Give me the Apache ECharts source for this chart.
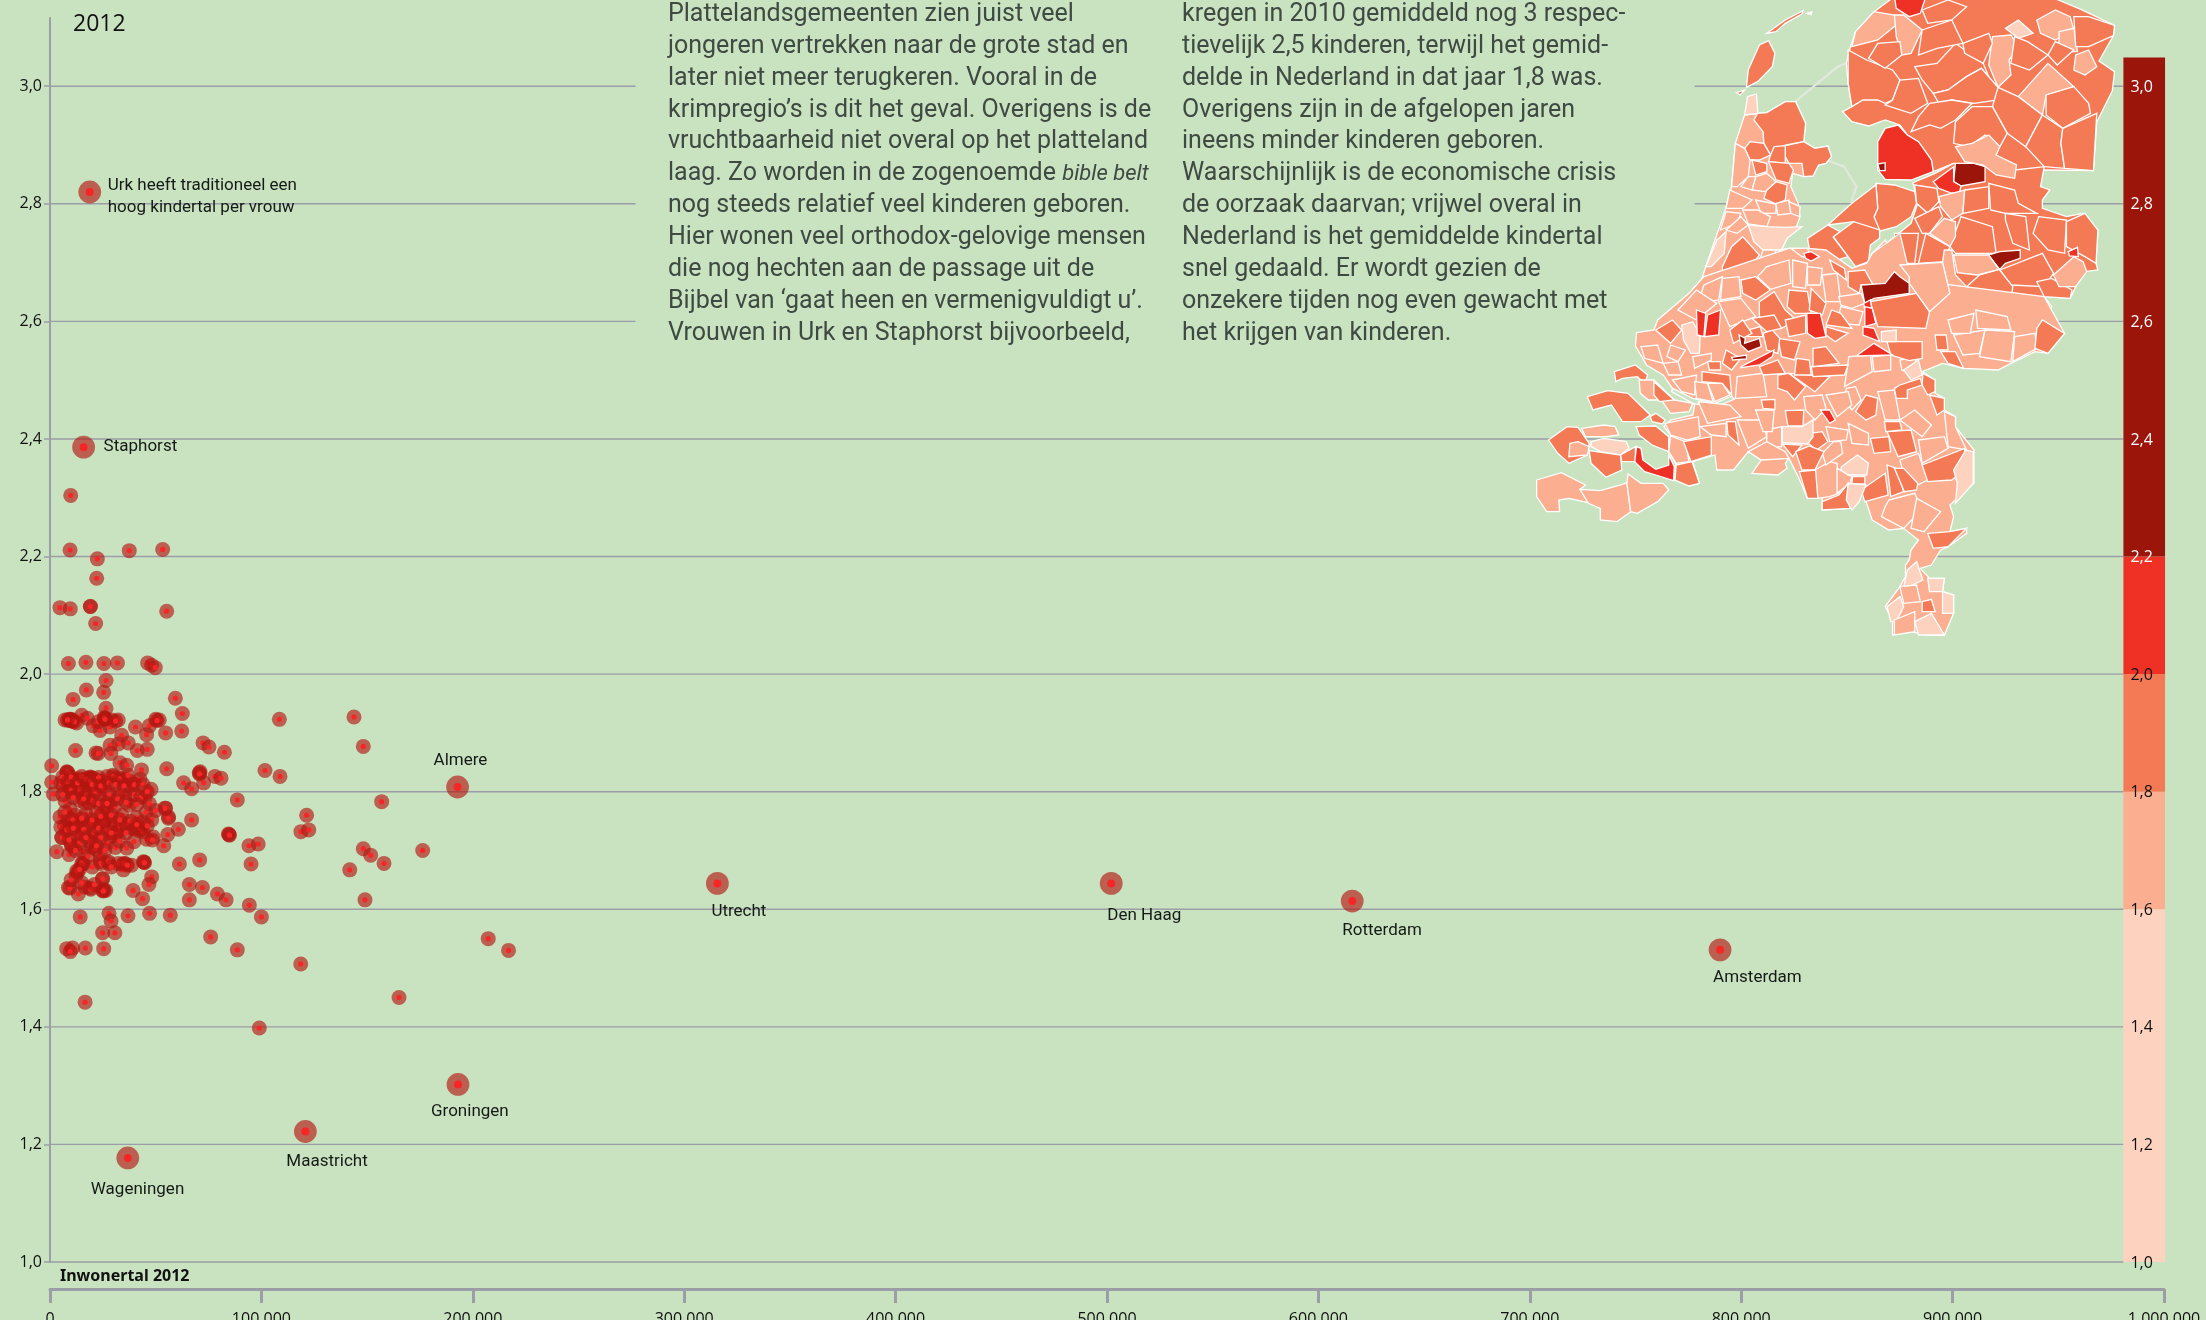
<!DOCTYPE html>
<html>
<head>
<meta charset="utf-8">
<style>html,body{margin:0;padding:0;background:#c9e3c1;overflow:hidden}#main{width:2206px;height:1320px}</style>
<script src="https://cdn.jsdelivr.net/npm/echarts@6/dist/echarts.min.js"></script>
</head>
<body>
<div id="main"></div>
<script type="text/javascript">
// kindertal per vrouw tegen inwonertal (inwoners x 1000, kinderen)
var gemeenten = [
  [4.7,2.113],[9.6,2.111],[19.1,2.115],[19.1,2.115],[55.2,2.107],[21.6,2.086],[9.8,2.304],[9.5,2.211],[37.5,2.210],[53.3,2.212],[22.4,2.196],[22.1,2.163],
  [8.7,2.018],[17.0,2.020],[25.5,2.018],[31.9,2.019],[46.2,2.019],[48.1,2.015],[49.8,2.011],[26.5,1.989],[25.4,1.969],[17.2,1.973],[10.9,1.957],[26.5,1.942],
  [59.3,1.959],[62.6,1.933],[62.3,1.903],[108.5,1.923],[143.8,1.927],[148.2,1.877],[101.7,1.836],[108.8,1.826],[82.5,1.867],[72.4,1.883],[75.2,1.876],
  [71,1.834],[70.6,1.832],[70.8,1.830],[78,1.826],[80.9,1.823],[72.7,1.815],[55.2,1.839],[63.2,1.815],[67,1.805],[88.6,1.786],[156.9,1.783],[67,1.752],
  [121.4,1.760],[118.7,1.732],[122.4,1.735],[84.7,1.727],[84.4,1.728],[84.9,1.726],[94.1,1.708],[98.5,1.711],[148.2,1.703],[151.7,1.692],[158,1.678],[176.3,1.700],
  [141.8,1.667],[95.1,1.677],[70.8,1.684],[61.2,1.677],[53.8,1.708],[55.7,1.727],[60.7,1.736],[56.1,1.757],[54.7,1.772],[149,1.616],[65.9,1.642],[72.1,1.637],
  [79.2,1.626],[83.3,1.616],[65.9,1.616],[94.3,1.607],[100,1.587],[56.9,1.590],[47.1,1.593],[36.9,1.589],[27.9,1.593],[28.9,1.580],[24.9,1.560],[30.7,1.560],
  [14.3,1.587],[76,1.553],[88.6,1.531],[118.6,1.507],[165.1,1.450],[207.3,1.550],[216.9,1.530],[99,1.398],[16.6,1.442],[7.9,1.533],[10.7,1.534],[9.6,1.528],[16.7,1.534],[25.4,1.533],
  [39.3,1.632],[43.8,1.618],[48.1,1.655],[46.8,1.642],[44.5,1.680],[44.2,1.681],[44.7,1.679],[24.8,1.652],[24.8,1.632],[26.4,1.632],[25.6,1.633],
  [35.5,1.678],[34.4,1.676],[34.7,1.667],[38.6,1.675],[27.9,1.678],[23.7,1.681],[15.5,1.678],[15.7,1.677],[13,1.663],[12.3,1.657],[8.7,1.637],[9.4,1.636],[13.4,1.626],[18.9,1.636],[16.5,1.638],
  [3.2,1.698],[9,1.693],[10.1,1.708],[36.3,1.704],
  // kluit rond 1,92
  [7.1,1.922],[9.1,1.923],[9.6,1.922],[10.3,1.922],[10.7,1.921],[12.6,1.917],[15,1.930],[17.7,1.925],[20.5,1.912],[23.7,1.904],[22.9,1.919],[25.9,1.925],[26.2,1.924],
  [29.2,1.922],[28.4,1.910],[32.3,1.922],[33.9,1.896],[37,1.883],[40.4,1.910],[47,1.912],[50,1.923],[51.7,1.922],[45.7,1.897],[54.7,1.900],
  [32.3,1.881],[28.4,1.879],[41.3,1.870],[46,1.872],[28.8,1.865],[21.8,1.866],[22.8,1.865],[12.1,1.870],[33.1,1.849],[36.3,1.845],[43.3,1.837],[0.8,1.844],
  [9.3,1.921],[10,1.923],[10.5,1.920],[11.5,1.919],[8.3,1.922],[25.6,1.926],[26,1.923],[31,1.920],[50.6,1.921],
  // kluit rond 1,8
  [0.8,1.816],[1.6,1.796],[7.9,1.833],[6.3,1.810],[5.1,1.815],[11,1.817],[12.6,1.820],[18.9,1.823],[19.5,1.824],[25.5,1.818],[29.7,1.828],[32.3,1.824],[35.5,1.821],[38.6,1.817],
  [42.6,1.821],[38.6,1.806],[47.8,1.804],[45,1.790],[54.4,1.772],[56,1.755],[45.4,1.765],[37.5,1.777],[35.5,1.793],[30.7,1.774],[29.2,1.786],[25.7,1.776],[18.9,1.803],[23.3,1.795],
  [18.6,1.781],[15.8,1.800],[12.9,1.800],[9.1,1.800],[9.5,1.770],[7.1,1.784],[13.4,1.746],[7.9,1.743],[6.9,1.742],[18.1,1.746],[25.5,1.749],[22.9,1.746],[30.7,1.746],[31.8,1.730],
  [43,1.736],[41,1.756],[38.6,1.738],[48.1,1.752],[48.9,1.723],[5.5,1.722],[11.8,1.726],[20.5,1.721],[28.4,1.723],[16.6,1.780],[26.8,1.766],[4.7,1.757],[5.1,1.740],[5.7,1.722],
  [10.3,1.709],[15.5,1.698],[15,1.678],[19.7,1.706],[23.7,1.692],[24,1.678],[27.6,1.681],[32.3,1.678],[35,1.678],[36.6,1.675],[31.5,1.731],[39.4,1.738],[39.7,1.715],[45.7,1.719],
  [48.4,1.718],[12.6,1.665],[25.2,1.631],[24.9,1.652],[19.3,1.634],
  // dubbelen in het hart van de kluit
  [11,1.818],[12,1.819],[19,1.825],[18.5,1.822],[20,1.823],[8,1.834],[8.5,1.832],[6,1.825],[14,1.822],[16,1.818],[22,1.820],[27,1.826],[30,1.826],[33,1.822],[10,1.805],[14,1.805],
  [21,1.800],[26,1.804],[17,1.795],[20,1.785],[14,1.785],[28,1.795],[33,1.800],[40,1.795],[43,1.790],[12,1.760],[17,1.762],[22,1.765],[27,1.755],[34,1.760],[9,1.755],[13,1.742],
  [19,1.744],[24.5,1.748],[25.8,1.750],[25,1.745],[15,1.728],[21,1.730],[33,1.742],[42,1.734],[44,1.732],[42.5,1.738],[36,1.745],[14,1.712],[19,1.715],[27,1.712],[31,1.705],[21.5,1.702],
  [8.5,1.817],[10,1.825],[13,1.815],[15,1.826],[17,1.822],[18.9,1.818],[20,1.812],[23,1.824],[24,1.810],[28,1.815],[31,1.812],[35,1.810],[37,1.828],[40,1.812],[44,1.812],[46,1.800],
  [6,1.795],[11,1.790],[16,1.788],[23,1.780],[27,1.780],[32,1.788],[36,1.782],[41,1.778],[47,1.780],[50,1.768],[7,1.765],[11,1.752],[15,1.755],[20,1.752],[24,1.758],[29,1.760],
  [33,1.752],[38,1.750],[44,1.748],[8,1.735],[11,1.738],[16,1.736],[23,1.738],[27,1.735],[36,1.730],[41,1.744],[46,1.742],[9,1.718],[17,1.722],[24,1.722],[29,1.730],[33,1.716],
  [12,1.700],[22,1.708],[26,1.700],[18,1.690],[20,1.672],[14,1.668],[29,1.672],[10,1.650],[15,1.645],[21,1.642]
];

// gemeenten met een naam erbij
var steden = ['Urk','Staphorst','Almere','Utrecht','Den Haag','Rotterdam','Amsterdam','Groningen','Maastricht','Wageningen'];
var stedenInwoners = [18.8,15.9,192.8,315.7,502,616,790,193,120.8,36.8];
var stedenKindertal = [2.820,2.386,1.808,1.644,1.644,1.614,1.531,1.302,1.222,1.177];
var stedenTekst = {Urk: 'Urk heeft traditioneel een\nhoog kindertal per vrouw'};
// tekst t.o.v. de stip
var stedenLabelPlek = {
  'Urk':[18,5],'Staphorst':[20,0],'Almere':[-24,-26],'Utrecht':[-6,28],'Den Haag':[-4,32],
  'Rotterdam':[-10,30],'Amsterdam':[-7,28],'Groningen':[-27,27],'Maastricht':[-19,30],'Wageningen':[-37,32]
};

var yTicks = [1.0,1.2,1.4,1.6,1.8,2.0,2.2,2.4,2.6,2.8,3.0];
var xTickLabels = ['0','100.000','200.000','300.000','400.000','500.000','600.000','700.000','800.000','900.000','1.000.000'];

// legenda: grenzen en kleuren, onderaan beginnen
var schaalGrenzen = [1.0,1.6,1.8,2.0,2.2,3.049];
var schaalKleuren = ['#fdd3c0','#fbae90','#f47a56','#ee3025','#9b150a'];
var waterKleur = '#c9e3c1';
var dijkKleur = '#e2eadf';

var tekstLinks = [
  'Plattelandsgemeenten zien juist veel',
  'jongeren vertrekken naar de grote stad en',
  'later niet meer terugkeren. Vooral in de',
  'krimpregio\u2019s is dit het geval. Overigens is de',
  'vruchtbaarheid niet overal op het platteland',
  'laag. Zo worden in de zogenoemde {i|bible belt}',
  'nog steeds relatief veel kinderen geboren.',
  'Hier wonen veel orthodox-gelovige mensen',
  'die nog hechten aan de passage uit de',
  'Bijbel van \u2018gaat heen en vermenigvuldigt u\u2019.',
  'Vrouwen in Urk en Staphorst bijvoorbeeld,'
];
var tekstRechts = [
  'kregen in 2010 gemiddeld nog 3 respec-',
  'tievelijk 2,5 kinderen, terwijl het gemid-',
  'delde in Nederland in dat jaar 1,8 was.',
  'Overigens zijn in de afgelopen jaren',
  'ineens minder kinderen geboren.',
  'Waarschijnlijk is de economische crisis',
  'de oorzaak daarvan; vrijwel overal in',
  'Nederland is het gemiddelde kindertal',
  'snel gedaald. Er wordt gezien de',
  'onzekere tijden nog even gewacht met',
  'het krijgen van kinderen.'
];

// kaart: [klasse, omtrek]. Grote vlakken eerst, de kleinere er bovenop
var L = 1.5, M = 1.7, H = 1.9, R = 2.1, D = 2.4, W = 0, K = -1;
var kaartNoord = [
  // waddeneilanden en dijken
  [H,'585,262 590,210 620,135 645,122 662,160 655,200 615,245'],[H,'558,278 580,270 568,285'],[H,'640,100 690,60 738,32 735,42 690,70 665,95'],[M,'748,40 762,36 760,44'],
  [K,'716,303 830,198 852,188 852,192 832,203 719,306'],[K,'810,482 850,497 885,560 870,605 868,600 880,560 848,502 810,486'],
  // noorden en oosten als basis
  [H,'985,-10 930,35 880,95 865,145 855,190 860,250 870,320 845,335 870,365 915,378 960,360 1000,375 1020,405 1050,425 1085,480 1090,515 1145,490 1230,500 1240,530 1310,510 1390,510 1523,512 1532,366 1574,272 1580,215 1538,183 1577,107 1580,76 1489,28 1428,0 1400,-10'],
  [H,'1035,548 1095,520 1145,490 1230,500 1310,510 1390,500 1380,560 1405,570 1385,600 1385,625 1450,650 1495,640 1505,680 1535,690 1530,790 1535,810 1500,815 1475,860 1460,895 1390,890 1410,920 1395,960 1300,1000 1000,1000 920,800 930,760 1030,670 1048,610'],
  // Friesland
  [M,'880,95 930,35 985,45 990,75 940,120 870,140'],[M,'985,45 1010,45 1060,90 1030,160 1005,165 990,110'],[R,'985,-10 1070,-10 1055,40 1025,50 990,25'],
  [H,'860,150 910,180 980,210 1000,240 980,300 960,310 940,300 900,300 870,320 860,250'],[H,'980,300 1000,240 1050,235 1075,310 1030,340 960,315'],
  [H,'1040,200 1100,190 1150,130 1225,190 1240,230 1220,205 1180,230 1130,270 1090,280 1060,240'],[H,'1090,280 1130,270 1180,230 1220,205 1265,262 1265,300 1200,310 1140,300 1105,310'],
  [H,'1050,350 1080,310 1140,300 1195,310 1150,360 1110,385 1080,375 1030,395'],[H,'1060,90 1140,60 1170,130 1100,145 1050,165'],[H,'940,130 1000,125 1005,165 960,205 915,175'],[H,'1060,30 1130,0 1180,20 1140,60 1075,70'],
  // Groningen en Drenthe
  [L,'1285,85 1320,60 1360,100 1320,115'],[M,'1250,110 1300,105 1320,140 1295,180 1300,225 1265,262 1240,195'],[M,'1320,290 1400,190 1470,260 1395,285 1385,345'],[M,'1370,60 1420,30 1460,50 1470,90 1420,120 1380,100'],
  [M,'1430,95 1470,85 1480,155 1430,155'],[M,'1470,210 1475,165 1510,150 1532,200 1500,225'],[H,'1470,50 1510,50 1580,76 1577,107 1510,140 1475,140'],[H,'1170,130 1240,100 1250,130 1225,190 1175,160'],
  [H,'1265,262 1320,290 1385,345 1340,440 1290,400 1250,320'],[H,'1385,345 1440,385 1435,430 1445,505 1390,500 1340,440'],[H,'1440,385 1532,340 1523,512 1445,505 1435,430'],[H,'1395,285 1470,260 1510,310 1515,340 1440,385 1395,345'],
  [H,'1150,365 1195,320 1250,320 1290,400 1270,440 1230,405 1185,440 1145,430'],[H,'1310,110 1345,125 1400,165 1350,210 1300,190'],[H,'1420,125 1470,150 1425,195 1400,165'],
  [M,'1195,430 1240,405 1270,440 1260,465 1315,495 1310,535 1260,525 1225,495 1175,485 1150,440'],
  [D,'1150,490 1200,490 1230,500 1230,545 1165,558 1145,545'],[R,'1090,545 1145,500 1145,545 1165,558 1160,582 1135,578 1105,565'],
  // Noordoostpolder en Urk
  [R,'940,425 960,385 995,375 1020,405 1050,425 1085,480 1090,515 1030,540 960,538 940,510'],[D,'940,492 960,488 960,512 945,512'],
  // Flevoland
  [H,'935,550 985,555 1040,575 1045,610 1030,650 990,680 940,695 930,650 940,625'],[H,'935,555 940,625 930,650 945,690 885,700 875,665 805,675 870,610'],
  [H,'750,715 805,675 838,695 820,712 860,770 830,780 800,755 755,745'],[H,'820,710 875,665 945,690 945,715 920,735 915,785 880,800 860,770'],
  // Overijssel en Gelderland
  [M,'1105,590 1175,570 1170,640 1140,660 1110,620'],[H,'1040,555 1100,565 1105,605 1075,640 1045,610'],[H,'1175,570 1240,560 1240,625 1170,640'],[H,'1240,550 1310,570 1320,610 1370,640 1285,640 1245,630'],
  [H,'1165,650 1250,680 1260,760 1150,760 1135,740'],[H,'1285,640 1340,650 1350,750 1305,730 1285,660'],[H,'1375,650 1450,660 1445,760 1400,750 1360,700'],[H,'1450,665 1500,640 1535,690 1530,790 1500,770 1450,740'],
  [H,'1270,810 1385,760 1415,820 1390,860 1300,855'],[H,'1180,860 1215,825 1268,808 1305,860 1300,905 1220,880'],[H,'1370,845 1410,835 1465,870 1460,895 1390,890'],[H,'1040,655 1105,620 1115,650 1080,700 1060,700'],
  [H,'985,700 1050,700 1040,790 990,790'],[H,'1050,790 1070,700 1135,740 1120,785'],
  [M,'1420,820 1470,770 1495,785 1505,815 1475,860 1430,860 1415,825'],[R,'1455,755 1480,742 1482,770 1458,768'],[D,'1238,765 1270,755 1325,750 1325,775 1285,790 1270,808'],
  [M,'1145,765 1240,765 1268,808 1210,825 1155,818'],[M,'1000,795 1115,787 1135,880 1080,935 1045,880 1025,850 1025,830'],[M,'1120,750 1140,750 1150,825 1180,860 1135,880 1115,787'],
  [M,'925,760 960,720 985,770 950,765'],[M,'1080,700 1120,655 1150,665 1150,710 1135,740'],
  // Noord-Holland
  [M,'580,345 615,340 640,338 690,305 718,305 745,370 740,425 770,445 805,438 815,470 800,490 780,495 765,528 740,530 710,520 705,560 725,610 730,650 720,680 695,715 680,745 700,770 640,800 520,830 470,830 430,880 460,850 500,720 525,640 545,560 555,430'],
  [L,'588,290 612,282 616,340 580,345'],[H,'615,340 640,338 690,305 718,305 745,370 740,425 690,435 650,465 632,430 630,395 605,360'],
  [H,'690,437 740,425 770,445 805,438 815,470 800,490 780,495 765,528 740,530 735,490 700,490 690,470'],[H,'660,440 690,437 690,490 645,485 650,465'],[H,'645,485 700,490 712,510 700,550 665,540'],
  [H,'580,445 595,425 632,430 650,465 620,480 595,480'],[H,'640,570 665,545 695,555 690,600 665,612 632,595'],[M,'555,430 580,445 595,480 590,530 560,560 545,560'],[M,'610,530 640,520 665,545 635,575 600,570'],
  [M,'540,570 600,600 575,625 530,625'],[M,'610,600 665,612 665,640 625,640'],[M,'665,610 700,600 705,640 670,645'],[M,'700,605 730,620 728,650 705,640'],[M,'575,630 615,630 650,650 640,680 590,672'],[M,'530,635 570,640 560,670 515,690'],
  [M,'590,530 610,530 600,570 570,560'],[H,'600,480 640,490 640,515 610,525'],
  [L,'590,675 640,680 690,682 735,680 695,715 680,750 630,750 605,725'],[M,'570,650 590,675 560,700 530,690'],[H,'575,710 620,765 600,795 560,820 520,830 520,800 545,740'],[L,'505,720 530,695 525,760 490,800 475,800'],
  [M,'630,750 665,750 650,800 615,800'],[L,'675,750 700,745 700,775 665,785']
];
var kaartZuid = [
  // midden en zuiden als basis
  [M,'470,-130 700,-215 750,-215 800,-210 870,-155 910,-170 925,-200 1000,-260 1030,-120 1390,-70 1445,40 1400,100 1365,95 1300,130 1265,150 1172,145 1115,130 1060,155 1095,180 1095,220 1120,235 1120,270 1150,290 1150,320 1200,390 1200,490 1135,555 1145,590 1135,635 1180,625 1180,640 1130,680 1110,690 1085,735 1055,745 1080,775 1120,775 1115,815 1145,825 1145,880 1120,945 1075,945 1030,935 980,945 980,900 960,860 1000,800 1015,770 1015,735 1025,720 1030,690 1050,660 1010,625 970,630 925,600 910,550 900,520 860,565 790,570 790,530 750,535 725,470 700,415 690,430 695,445 670,465 600,460 625,420 590,395 550,450 505,450 500,405 440,425 458,490 430,498 392,480 395,435 375,395 380,345 362,320 380,300 440,285 445,255 440,250 385,205 360,165 315,135 305,115 285,78 288,38 335,30 345,0 430,-80'],
  // rivier
  [W,'385,205 440,235 500,250 545,228 552,238 500,262 440,250 383,215'],
  // Zeeland
  [H,'228,155 285,135 318,165 310,190 290,170 250,175 232,185'],[M,'295,180 335,180 390,240 440,250 430,275 380,280 355,240 320,240 298,220'],[H,'335,185 390,240 350,245 335,225'],
  [H,'155,230 210,212 265,220 325,285 300,305 250,305 220,255 170,270'],[H,'325,290 340,280 365,300 358,312 330,305'],[H,'50,360 100,320 130,322 160,370 155,405 105,430 75,400'],[M,'108,370 130,365 160,380 155,405 105,410'],
  [M,'140,325 200,315 230,320 240,345 205,350 150,350'],[L,'165,365 200,355 260,365 268,385 245,405 190,395 165,380'],[H,'160,392 245,405 248,450 205,472 165,430'],[H,'245,405 285,380 285,425 248,425'],
  [H,'287,320 340,318 375,350 375,395 330,375 295,345'],[R,'288,380 300,385 305,420 340,448 375,435 375,405 390,440 388,482 340,465 310,455 283,425'],
  [M,'18,480 85,458 150,495 135,508 158,548 105,535 78,540 80,575 45,575 18,530'],[M,'135,508 190,512 245,495 262,488 272,575 235,605 190,600 190,565 158,550'],[M,'265,462 300,490 360,490 375,510 345,545 290,580 272,575 262,490'],
  // structuur in Brabant, Limburg en Gelderland
  [M,'862,110 920,105 925,155 850,200'],[M,'925,110 975,105 975,150 930,155'],[M,'855,205 880,200 895,240 870,270 850,240'],[M,'940,215 985,210 1000,300 960,300'],[M,'1000,300 1040,270 1085,315 1060,350'],
  [M,'1050,360 1120,350 1130,385 1060,430'],[M,'1120,275 1150,290 1150,320 1180,390 1130,380'],[M,'1000,420 1050,400 1075,480 1020,510'],[M,'970,540 1040,520 1050,545 1040,590 1010,625 950,590 960,560'],[M,'1045,535 1110,575 1065,635 1030,625'],
  [M,'560,300 630,300 640,350 590,385'],[M,'460,320 530,310 530,350 490,345'],[M,'455,245 540,255 570,290 480,310'],[M,'365,310 455,290 460,350 425,360 380,345'],[M,'380,348 420,365 430,425 395,430 375,395'],
  [M,'640,330 680,320 680,380 640,385'],[M,'610,270 660,270 655,335 630,335'],[M,'590,395 640,365 690,395 700,415 625,420'],[M,'770,450 810,425 830,430 835,520 810,530 778,535'],[M,'830,445 870,470 865,490 830,520'],
  [M,'800,320 860,330 855,360 810,365'],[M,'860,310 915,340 915,375 870,370'],[M,'820,365 840,365 845,400 800,435 790,400'],[M,'740,230 790,225 800,265 770,300 745,270'],[M,'800,225 860,215 870,255 830,290'],
  [M,'1145,45 1230,30 1215,100 1170,105'],[M,'1230,30 1310,35 1300,125 1215,110'],[M,'1310,50 1365,40 1370,85 1305,125'],[M,'1000,120 1045,110 1035,165 1005,150'],[M,'1130,0 1200,-20 1190,40 1140,40'],[M,'1205,-30 1290,-10 1300,30 1210,25'],
  [M,'560,170 630,160 640,230 555,235'],[M,'385,180 450,165 445,225 410,215'],[M,'445,185 480,190 495,245 450,235'],[M,'480,190 520,190 540,225 500,245'],
  [H,'690,272 740,270 738,318 697,318'],[H,'625,240 662,238 662,268 630,265'],[H,'757,340 790,335 805,365 775,390 752,370'],[H,'880,275 908,225 940,235 935,285 908,300'],[H,'682,372 735,375 710,410'],[H,'718,395 755,378 795,395 770,450 735,450'],
  [H,'728,455 772,450 778,535 750,535'],[H,'790,545 835,525 860,490 865,565 790,570'],[H,'895,510 960,460 968,525 905,545'],[H,'965,435 990,445 1010,515 975,530'],[H,'985,445 1010,445 1048,490 1045,510 1012,515'],
  [H,'1060,435 1175,385 1175,450 1140,480 1075,485'],[H,'965,335 1030,330 1045,395 995,410'],[H,'920,355 970,350 975,395 930,400'],[H,'958,305 1000,305 1005,330 962,335'],[H,'872,470 905,470 905,492 870,492'],[H,'415,365 490,350 490,405 435,425'],
  [H,'532,305 555,305 565,375 535,345'],[H,'395,435 438,425 458,490 430,498 392,480'],[H,'1062,160 1095,180 1095,215 1075,225 1060,195'],[H,'1080,225 1120,235 1120,270 1100,285'],[H,'985,205 1000,195 1055,175 1060,195 1020,210 1020,235 990,235'],
  [H,'1370,25 1385,0 1445,40 1400,100 1365,85'],[H,'1095,45 1125,45 1130,90 1100,90'],[H,'1110,95 1150,95 1172,145 1130,130'],[H,'965,65 1060,65 1060,115 1025,122 975,105'],
  // Zuid-Holland en Utrecht
  [H,'340,30 385,0 410,30 380,70'],[M,'300,80 345,75 360,130 310,115'],[M,'360,130 400,125 410,165 375,165'],[H,'480,125 515,125 515,150 485,150'],[H,'465,155 540,165 545,225 520,190 465,185'],[H,'670,165 700,160 745,200 715,240 695,215 670,205'],
  [H,'700,160 810,170 770,215 745,195'],[H,'760,140 860,135 850,165 765,170'],[H,'765,85 800,80 835,130 765,140'],[H,'720,115 755,120 760,165 715,165'],[H,'670,55 730,65 715,120 680,110'],[H,'800,20 860,40 825,65 800,45'],
  [H,'575,35 622,20 630,50 590,50'],[H,'630,40 655,30 675,55 670,100 640,90'],[M,'380,75 420,90 400,125 370,110'],[M,'440,110 490,100 490,120 445,145'],[H,'530,90 570,115 545,150 520,130'],[H,'620,140 670,120 690,160 630,165'],
  [H,'860,-145 905,-150 930,-100 895,-105 890,-80 860,-100'],[H,'920,-55 1045,-80 1080,-25 1070,25 940,20'],[H,'810,-180 850,-155 855,-120 820,-150'],[M,'1000,-165 1115,-173 1135,-80 1080,-25 1045,-80 1025,-110 1025,-130'],
  [H,'570,-120 610,-130 650,-90 610,-60 575,-80'],[H,'620,-55 660,-85 690,-30 720,0 680,25 620,-10'],[M,'710,-180 750,-170 745,-95 710,-100'],[M,'615,-130 640,-160 700,-180 705,-110 650,-92'],[M,'750,-160 790,-155 785,-105 750,-105'],[M,'790,-135 830,-140 840,-55 800,-55'],
  [M,'835,-70 895,-80 905,-50 870,-35 840,-45'],[M,'705,-215 750,-215 760,-185 735,-190'],[M,'470,-105 520,-130 510,-60 455,-50'],[M,'520,-125 565,-130 570,-70 515,-60'],[M,'400,-30 450,-90 505,-50 450,0'],[L,'410,15 440,5 460,45 458,100 435,100 415,60'],
  [M,'510,-55 570,-65 610,-10 540,20'],[H,'700,-90 750,-85 760,-20 715,-20 695,-40'],[H,'760,-95 800,-50 790,-15 755,-30'],[M,'840,-40 900,-25 890,15 830,10'],
  [H,'540,30 575,0 600,40 550,70'],[H,'600,-5 660,-15 680,25 640,35'],[H,'690,0 745,-15 745,40 700,50'],[H,'815,-30 840,-20 870,25 800,15'],
  // de rode en donkere gemeenten
  [R,'740,-200 760,-205 782,-190 760,-177 745,-185'],
  [D,'895,-105 960,-110 985,-145 1000,-130 1025,-110 1025,-80 930,-65 905,-50'],[R,'902,-50 920,-60 925,-25 905,-30'],
  [L,'682,320 735,320 765,300 765,350 750,372 682,368'],[L,'842,440 885,405 915,430 910,465 860,465 840,450'],[L,'860,490 908,495 890,545 870,570 855,540'],[L,'1010,150 1050,120 1060,165 1030,180'],[L,'950,35 990,30 990,65 950,65'],
  [L,'965,860 1000,830 1010,860 990,905 975,905'],[L,'1040,905 1085,880 1120,945 1050,945'],[L,'1020,750 1045,725 1062,780 1025,800 1010,800'],[L,'1145,450 1178,390 1198,395 1198,490 1150,550 1155,490'],[L,'1075,775 1120,775 1115,815 1080,815'],[L,'1115,815 1145,825 1145,880 1115,880'],
  [M,'1000,800 1045,795 1055,845 1010,850'],[M,'985,900 1040,875 1040,935 985,945'],[H,'1060,845 1085,838 1095,875 1060,875'],[H,'1075,640 1135,635 1180,625 1130,680 1090,685'],
  [R,'885,105 930,70 980,105 885,108'],[R,'900,20 930,25 945,65 900,45'],[R,'905,-40 925,-35 935,10 905,20'],[R,'748,-20 785,-20 800,50 770,55 750,40'],[R,'450,-30 475,-20 470,50 452,45'],[R,'480,-15 515,-30 510,45 472,50'],
  [R,'570,140 660,90 655,110 620,135 570,143'],[D,'545,112 585,105 585,117 548,120'],[D,'565,45 582,55 580,70 620,55 625,80 590,95 570,75'],[R,'785,270 810,270 825,300 810,310']
];

var echartsKleur = function(v){
  if(v === W) return waterKleur;
  if(v === K) return dijkKleur;
  for(var i = 0; i < schaalKleuren.length; i++){
    if(v < schaalGrenzen[i+1]) return schaalKleuren[i];
  }
  return schaalKleuren[schaalKleuren.length-1];
};
var vlakStijl = function(v){
  var stijl = {areaColor:echartsKleur(v)};
  if(v === K){ stijl.borderColor = dijkKleur; stijl.borderWidth = 0.6; }
  return stijl;
};

// de zoomknipsels zijn niet 1:1, daarom de omrekening naar pixels op de kaart
var maakVlak = function(item, naam, yStart){
  var ring = item[1].split(' ').map(function(p){
    var xy = p.split(',');
    return [+xy[0]/2.703, -(+xy[1]+yStart)/3];
  });
  ring.push(ring[0]);
  return {type:'Feature', properties:{name:naam}, geometry:{type:'Polygon', coordinates:[ring]}};
};
var features = [], kaartData = [];
kaartNoord.forEach(function(v,i){
  features.push(maakVlak(v,'n'+i,0));
  kaartData.push({name:'n'+i, value:v[0], itemStyle:vlakStijl(v[0])});
});
kaartZuid.forEach(function(v,i){
  features.push(maakVlak(v,'z'+i,960));
  kaartData.push({name:'z'+i, value:v[0], itemStyle:vlakStijl(v[0])});
});
echarts.registerMap('nl',{type:'FeatureCollection',features:features});

var myChart = echarts.init(document.getElementById('main'));
var tekstGat = [277000,778000];
var balkStart = 980800, balkEind = 1000500;
var lijnKleur = '#9b9ea6';

// horizontale lijnen, bovenin onderbroken voor de tekst
var renderRaster = function(params, api){
  var v = api.value(0);
  var stukken = v > 2.5 ? [[0,tekstGat[0]],[tekstGat[1],balkStart]] : [[0,balkStart]];
  return {type:'group', children:stukken.map(function(s){
    var a = api.coord([s[0],v]), b = api.coord([s[1],v]);
    return {type:'line', shape:{x1:a[0],y1:a[1],x2:b[0],y2:b[1]}, style:{stroke:lijnKleur,lineWidth:1.4}};
  })};
};
var renderBalk = function(params, api){
  var a = api.coord([balkStart, api.value(0)]), b = api.coord([balkEind, api.value(1)]);
  return {type:'rect', shape:{x:a[0],y:b[1],width:b[0]-a[0],height:a[1]-b[1]}, style:{fill:schaalKleuren[params.dataIndex]}};
};
var renderBalkTekst = function(params, api){
  var v = api.value(0), p = api.coord([balkStart,v]);
  return {type:'text', x:p[0]+7, y:p[1]+1, style:{text:v.toFixed(1).replace('.',','), fontFamily:'Open Sans', fontSize:16, fill:v>=2.2?'#fff':'#111', verticalAlign:'middle'}};
};
var stip = function(p, straal, kern){
  return [
    {type:'circle', shape:{cx:p[0],cy:p[1],r:straal}, style:{fill:'rgba(178,22,16,0.64)'}},
    {type:'circle', shape:{cx:p[0],cy:p[1],r:kern}, style:{fill:'#f72626'}}
  ];
};
var renderGemeente = function(params, api){
  return {type:'group', children:stip(api.coord([api.value(0),api.value(1)]),7.5,2.6)};
};
var renderStad = function(params, api){
  var p = api.coord([api.value(0),api.value(1)]);
  var naam = steden[params.dataIndex], plek = stedenLabelPlek[naam];
  return {type:'group', children:stip(p,11.4,4).concat([{
    type:'text', x:p[0]+plek[0], y:p[1]+plek[1],
    style:{text:stedenTekst[naam]||naam, fontFamily:'Roboto', fontSize:17, lineHeight:22, fill:'#161a16', verticalAlign:'middle'}
  }])};
};

var tekstRegels = [];
var tekstOpties = {fontFamily:'Roboto', fontSize:25, fill:'#3f4a42', verticalAlign:'middle', rich:{i:{fontFamily:'Roboto',fontStyle:'italic',fontSize:22,fill:'#3f4a42'}}};
var zetKolom = function(regels, x){
  regels.forEach(function(r,i){
    tekstRegels.push({type:'text', x:x, y:14.5+i*31.93, z:5, style:Object.assign({text:r}, tekstOpties)});
  });
};
zetKolom(tekstLinks,668);
zetKolom(tekstRechts,1182);
tekstRegels.push({type:'text', x:73, y:24, z:5, style:{text:'2012', fontFamily:'Open Sans', fontSize:23, fill:'#111', verticalAlign:'middle'}});
tekstRegels.push({type:'text', x:60, y:1276, z:5, style:{text:'Inwonertal 2012', fontFamily:'Noto Sans', fontWeight:'bold', fontSize:16, fill:'#111', verticalAlign:'middle'}});

var option = {
  animation:false,
  backgroundColor:waterKleur,
  grid:{left:50,right:42,top:18,bottom:58,outerBoundsMode:'none'},
  xAxis:{
    type:'value', min:0, max:1000000, interval:100000, offset:27,
    axisLine:{show:true,lineStyle:{color:lijnKleur,width:3}},
    axisTick:{show:true,length:14,lineStyle:{color:lijnKleur,width:3}},
    axisLabel:{margin:22,fontFamily:'Open Sans',fontSize:16,color:'#111',hideOverlap:false,
      formatter:function(v){return xTickLabels[Math.round(v/100000)];}},
    splitLine:{show:false}
  },
  yAxis:{
    type:'value', min:1, max:3.116, interval:0.2,
    axisLine:{show:true,lineStyle:{color:lijnKleur,width:2}},
    axisTick:{show:true,length:6,customValues:yTicks,lineStyle:{color:lijnKleur,width:1.5}},
    axisLabel:{margin:8,fontFamily:'Open Sans',fontSize:16,color:'#111',customValues:yTicks,
      formatter:function(v){return (+v).toFixed(1).replace('.',',');}},
    splitLine:{show:false}
  },
  graphic:tekstRegels,
  series:[
    {type:'custom',silent:true,z:1,renderItem:renderRaster,data:yTicks.map(function(v){return [v];})},
    {type:'map',map:'nl',silent:true,z:2,roam:false,aspectScale:1,left:1530,top:0,width:580,height:650,
      boundingCoords:[[0,0],[580,-650]],label:{show:false},
      itemStyle:{borderColor:'#fff',borderWidth:1.3},data:kaartData},
    {type:'custom',silent:true,z:3,renderItem:renderBalk,
      data:schaalKleuren.map(function(k,i){return [schaalGrenzen[i],schaalGrenzen[i+1]];})},
    {type:'custom',silent:true,z:4,renderItem:renderBalkTekst,data:yTicks.map(function(v){return [v];})},
    {type:'custom',silent:true,z:5,renderItem:renderGemeente,
      data:gemeenten.map(function(g){return [g[0]*1000,g[1]];})},
    {type:'custom',silent:true,z:6,renderItem:renderStad,
      data:steden.map(function(n,i){return [stedenInwoners[i]*1000,stedenKindertal[i]];})}
  ]
};
myChart.setOption(option);
</script>
</body>
</html>
